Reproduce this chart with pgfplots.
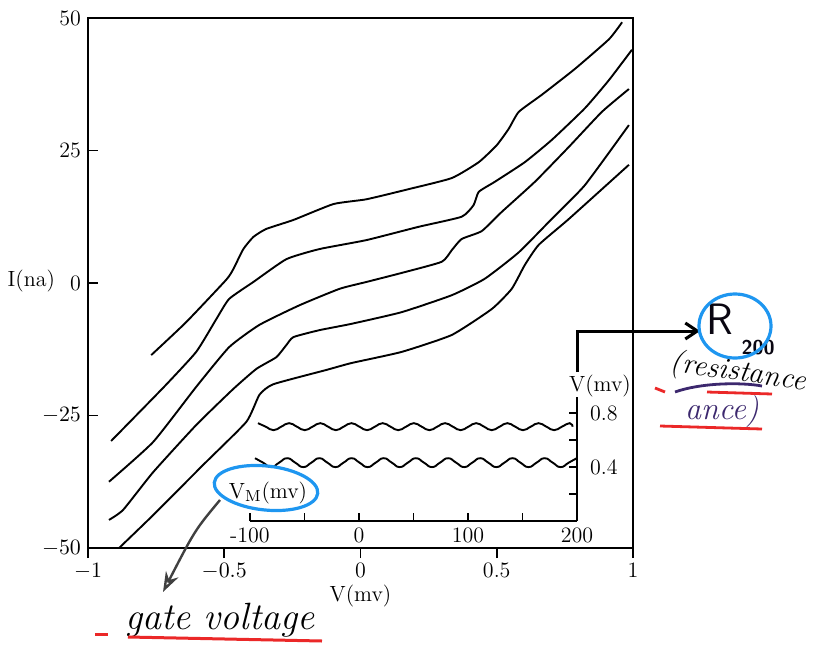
\documentclass[border=0pt]{standalone}
\usepackage{pgfplots}
\pgfplotsset{compat=1.18}
\usetikzlibrary{arrows.meta}
\definecolor{penblue}{RGB}{30,150,240}
\definecolor{penred}{RGB}{235,40,40}
\definecolor{penpurple}{RGB}{60,40,110}
\pgfplotsset{curve/.style={line width=0.95pt, black, smooth, tension=0.3, mark=none},
  wave/.style={line width=0.95pt, black, smooth, tension=0.9, mark=none}}
\begin{document}
\begin{tikzpicture}[x=0.5pt,y=0.5pt]
\useasboundingbox (0,0) rectangle (819,650);
% main axis
\begin{axis}[
  at={(44pt,51pt)}, anchor=south west,
  scale only axis, width=272.5pt, height=265pt,
  xmin=-1, xmax=1, ymin=-50, ymax=50,
  xtick={-1,-0.5,0,0.5,1}, xticklabels={$-1$,$-0.5$,0,0.5,1},
  ytick={-50,-25,0,25,50}, yticklabels={$-50$,$-25$,0,25,50},
  xtick pos=bottom, ytick pos=left,
  tick align=inside, major tick length=5pt,
  xtick style={yshift=-5pt},
  axis line style={line width=0.9pt},
  tick style={line width=0.8pt, black},
  tick label style={font=\fontsize{11}{13}\selectfont},
  xticklabel style={yshift=-4pt},
  xlabel={V(mv)}, xlabel style={font=\fontsize{11}{13}\selectfont, yshift=4pt},
]
\addplot[curve] coordinates {
(-0.768,-13.6) (-0.640,-7.4) (-0.493,0.6) (-0.467,2.6) (-0.430,6.4) (-0.393,8.7)
(-0.346,10.2) (-0.246,11.9) (-0.099,14.9) (0.022,15.8) (0.176,17.7) (0.335,19.8)
(0.434,22.8) (0.500,26.0) (0.544,29.1) (0.581,32.3) (0.665,35.5) (0.787,40.4)
(0.912,46.0) (0.960,49.2)};
\addplot[curve] coordinates {
(-0.915,-29.8) (-0.721,-19.6) (-0.603,-13.0) (-0.529,-6.8) (-0.482,-3.0) (-0.393,0.2)
(-0.272,4.5) (-0.151,6.4) (0.022,8.1) (0.213,10.6) (0.371,12.5) (0.415,14.7)
(0.434,17.2) (0.493,19.1) (0.603,22.8) (0.702,27.0) (0.824,33.0) (0.912,38.3) (0.996,44.0)};
\addplot[curve] coordinates {
(-0.923,-37.5) (-0.761,-30.0) (-0.603,-19.6) (-0.482,-12.1) (-0.371,-7.9) (-0.224,-4.2)
(-0.077,-1.1) (0.022,0.2) (0.151,1.9) (0.298,4.0) (0.335,6.2) (0.371,8.3) (0.445,9.8)
(0.518,13.4) (0.640,19.1) (0.765,25.7) (0.886,32.3) (0.985,36.6)};
\addplot[curve] coordinates {
(-0.923,-44.7) (-0.871,-42.8) (-0.761,-35.7) (-0.603,-26.8) (-0.467,-20.0) (-0.382,-16.2)
(-0.309,-14.0) (-0.272,-11.7) (-0.246,-10.2) (-0.151,-8.9) (-0.033,-7.7) (0.151,-5.5)
(0.335,-2.3) (0.456,0.8) (0.581,5.8) (0.702,12.1) (0.824,18.5) (0.985,29.8)};
\addplot[curve] coordinates {
(-0.886,-50.0) (-0.761,-43.8) (-0.577,-34.3) (-0.419,-26.2) (-0.371,-21.1) (-0.320,-19.1)
(-0.125,-16.4) (-0.033,-15.1) (0.151,-13.0) (0.335,-9.8) (0.482,-4.9) (0.555,-1.1)
(0.603,3.4) (0.654,7.2) (0.765,12.1) (0.985,22.3)};
\end{axis}
% inset axis
\begin{axis}[
  at={(125pt,64.5pt)}, anchor=south west,
  scale only axis, width=163.5pt, height=62pt,
  xmin=-100, xmax=200, ymin=0, ymax=0.92,
  axis x line=bottom, axis y line=right,
  axis line style={-, line width=0.8pt},
  xtick={-100,0,100,200}, xticklabels={-100,0,100,200},
  minor xtick={-50,50,150},
  ytick={0.4,0.8}, yticklabels={0.4,0.8},
  minor ytick={0.2,0.6},
  tick align=inside, major tick length=4pt, minor tick length=4pt,
  tick style={line width=0.8pt, black},
  tick label style={font=\fontsize{11}{13}\selectfont},
  yticklabel style={xshift=3pt},
]
\addplot[wave] coordinates {
(-92.7,0.726) (-85.6,0.700) (-78.4,0.674) (-71.3,0.700) (-64.1,0.726) (-57.0,0.700)
(-49.8,0.674) (-42.6,0.700) (-35.5,0.726) (-28.4,0.700) (-21.2,0.674) (-14.1,0.700)
(-6.9,0.726) (0.3,0.700) (7.4,0.674) (14.6,0.700) (21.7,0.726) (28.9,0.700)
(36.0,0.674) (43.2,0.700) (50.3,0.726) (57.5,0.700) (64.6,0.674) (71.8,0.700)
(78.9,0.726) (86.1,0.700) (93.2,0.674) (100.4,0.700) (107.5,0.726) (114.7,0.700)
(121.8,0.674) (129.0,0.700) (136.1,0.726) (143.3,0.700) (150.4,0.674) (157.6,0.700)
(164.7,0.726) (171.9,0.700) (179.0,0.674) (186.2,0.700) (193.3,0.726) (196.0,0.700)};
\addplot[wave] coordinates {
(-95.4,0.466) (-88.0,0.433) (-80.6,0.400) (-73.3,0.433) (-65.9,0.466) (-58.5,0.433)
(-51.1,0.400) (-43.7,0.433) (-36.4,0.466) (-29.0,0.433) (-21.6,0.400) (-14.2,0.433)
(-6.8,0.466) (0.5,0.433) (7.9,0.400) (15.3,0.433) (22.7,0.466) (30.1,0.433)
(37.4,0.400) (44.8,0.433) (52.2,0.466) (59.6,0.433) (67.0,0.400) (74.3,0.433)
(81.7,0.466) (89.1,0.433) (96.5,0.400) (103.9,0.433) (111.2,0.466) (118.6,0.433)
(126.0,0.400) (133.4,0.433) (140.8,0.466) (148.1,0.433) (155.5,0.400) (162.9,0.433)
(170.3,0.466) (177.7,0.433) (185.0,0.400) (192.4,0.433) (199.8,0.466)};
\end{axis}
% axis texts
\node[anchor=east, font=\fontsize{11}{13}\selectfont] at (62,369) {I(na)};
\node[font=\fontsize{11}{13}\selectfont] at (268,157) {V$_{\mathrm{M}}$(mv)};
\node[font=\fontsize{11}{13}\selectfont] at (600,264) {V(mv)};
% handwritten annotations
\draw[line width=1.5pt, -{Straight Barb[length=6pt,width=8pt]}] (577,278) -- (577,319) -- (700,319);
\node[inner sep=0pt, font=\sffamily\fontsize{22}{22}\selectfont, black!85!penpurple] at (720,331) {R};
\node[inner sep=0pt, font=\sffamily\bfseries\fontsize{10}{10}\selectfont, black!85!penpurple] at (758,302) {200};
\draw[penblue, line width=1.6pt] (735,324) ellipse (18pt and 16pt);
\node[inner sep=0pt, rotate=-8, font=\itshape\fontsize{15}{15}\selectfont] at (738,277) {(resistance};
\draw[penpurple, line width=1.4pt] (675,258) .. controls (700,267) and (740,268) .. (762,264);
\draw[penred, line width=1.4pt] (655,262) -- (665,258);
\draw[penred, line width=1.4pt] (707,258) -- (772,256);
\node[inner sep=0pt, font=\itshape\fontsize{16}{16}\selectfont, penpurple] at (722,238) {ance)};
\draw[penred, line width=1.4pt] (660,224) -- (762,221);
\draw[penblue, line width=1.6pt, rotate around={-6:(266,162)}] (266,162) ellipse (26pt and 11pt);
\draw[black!75, line width=1.2pt, -{Stealth[length=10pt,width=7pt,open]}] (220,150) .. controls (195,120) .. (163,58);
\node[font=\itshape\fontsize{19}{19}\selectfont] at (220,30) {gate voltage};
\draw[penred, line width=1.5pt] (95,16) -- (108,16);
\draw[penred, line width=1.5pt] (128,13) -- (322,9);
\end{tikzpicture}
\end{document}
